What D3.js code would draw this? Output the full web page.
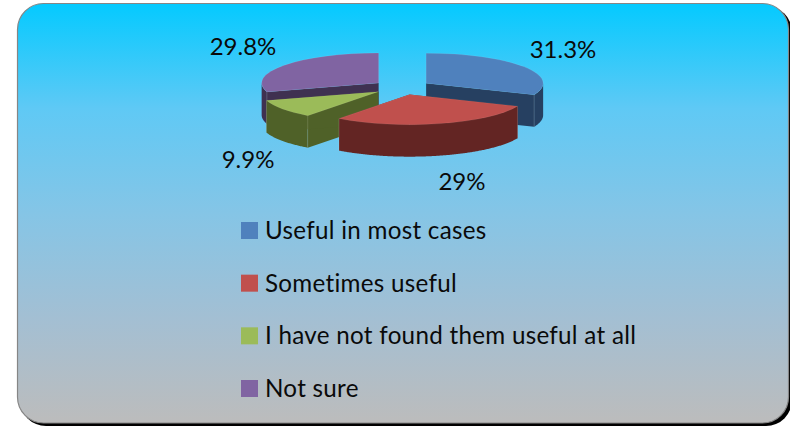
<!DOCTYPE html>
<html>
<head>
<meta charset="utf-8">
<script src="https://cdn.jsdelivr.net/npm/d3@7"></script>
<style>
html, body { margin: 0; padding: 0; background: #fff; overflow: hidden; }
text { font-family: Lato, "Noto Sans", sans-serif; fill: #0a0a0a; font-variant-ligatures: none; }
</style>
</head>
<body>
<script>
var w = 790;
var h = 428;

var categories = ["Useful in most cases", "Sometimes useful", "I have not found them useful at all", "Not sure"];
var values = [31.3, 29, 9.9, 29.8];
var valueLabels = ["31.3%", "29%", "9.9%", "29.8%"];
var topColors = ["#4f81bd", "#c0504d", "#9bbb59", "#8064a2"];
var sideColors = ["#264061", "#632523", "#4f6128", "#3f3151"];

var cx = 402, cy = 87.4;
var rx = 117, tilt = 0.257;
var depth = 32;
var explode = 29;

var svg = d3.select("body").append("svg")
    .attr("width", w)
    .attr("height", h)
    .style("display", "block");

var grad = svg.append("defs").append("linearGradient")
    .attr("id", "bg")
    .attr("x1", 0).attr("y1", 0).attr("x2", 0).attr("y2", 1);
grad.append("stop").attr("offset", "0%").attr("stop-color", "#04caff");
grad.append("stop").attr("offset", "25%").attr("stop-color", "#5fc9f5");
grad.append("stop").attr("offset", "50%").attr("stop-color", "#85c5e6");
grad.append("stop").attr("offset", "75%").attr("stop-color", "#a3bfd3");
grad.append("stop").attr("offset", "100%").attr("stop-color", "#bcbcbc");

// card shadow, then card
svg.append("rect")
    .attr("x", 20).attr("y", 6).attr("width", 772).attr("height", 420)
    .attr("rx", 26).attr("fill", "#000");
svg.append("rect")
    .attr("x", 17.5).attr("y", 3.5).attr("width", 771).attr("height", 419.5)
    .attr("rx", 26)
    .attr("fill", "url(#bg)")
    .attr("stroke", "#868686")
    .attr("stroke-width", 1.2);

var pie = d3.pie().sort(null).value(function (d) { return d; });
var slices = pie(values).map(function (s, i) {
    var mid = (s.startAngle + s.endAngle) / 2;
    return {
        i: i,
        a0: s.startAngle,
        a1: s.endAngle,
        x: cx + explode * Math.sin(mid),
        y: cy - explode * tilt * Math.cos(mid)
    };
});

// back slices first
slices.sort(function (a, b) { return a.y - b.y; });

var arcTop = d3.arc().innerRadius(0).outerRadius(rx);
var wallArea = d3.area()
    .x(function (a) { return rx * Math.sin(a); })
    .y0(function (a) { return -rx * tilt * Math.cos(a); })
    .y1(function (a) { return -rx * tilt * Math.cos(a) + depth; });

var g = svg.selectAll("g.slice")
    .data(slices)
    .enter()
    .append("g")
    .attr("class", "slice")
    .attr("transform", function (d) { return "translate(" + d.x + "," + d.y + ")"; });

// cut faces
g.each(function (d) {
    var sel = d3.select(this);
    [d.a0, d.a1].forEach(function (a) {
        var px = rx * Math.sin(a);
        var py = -rx * tilt * Math.cos(a);
        sel.append("path")
            .attr("d", "M0,0L" + px + "," + py + "L" + px + "," + (py + depth) + "L0," + depth + "Z")
            .attr("fill", sideColors[d.i]);
    });
});

// front part of the rim
g.each(function (d) {
    var from = Math.max(d.a0, Math.PI / 2);
    var to = Math.min(d.a1, Math.PI * 1.5);
    if (to <= from) return;
    var sel = d3.select(this);
    sel.append("path")
        .attr("d", wallArea(d3.range(from, to, 0.01).concat([to])))
        .attr("fill", sideColors[d.i]);
    [d.a0, d.a1].forEach(function (a) {
        if (Math.cos(a) >= 0) return;
        var px = rx * Math.sin(a);
        var py = -rx * tilt * Math.cos(a);
        sel.append("line")
            .attr("x1", px).attr("x2", px)
            .attr("y1", py).attr("y2", py + depth)
            .attr("stroke", "#fff")
            .attr("stroke-opacity", 0.15);
    });
});

// top faces
g.append("path")
    .attr("transform", "scale(1," + tilt + ")")
    .attr("d", function (d) {
        return arcTop({ startAngle: d.a0, endAngle: d.a1 });
    })
    .attr("fill", function (d) { return topColors[d.i]; })
    .attr("stroke", "#fff")
    .attr("stroke-opacity", 0.08)
    .attr("vector-effect", "non-scaling-stroke");

// value labels
var labelX = [563, 462, 248, 243];
var labelY = [50, 182, 160, 47];

svg.selectAll("text.value")
    .data(valueLabels)
    .enter()
    .append("text")
    .attr("class", "value")
    .attr("x", function (d, i) { return labelX[i]; })
    .attr("y", function (d, i) { return labelY[i]; })
    .attr("dy", "0.35em")
    .attr("text-anchor", "middle")
    .attr("font-size", 24)
    .text(function (d) { return d; });

// legend
var legendY = d3.scalePoint()
    .domain(categories)
    .range([230.5, 388.5]);

var legend = svg.selectAll("g.legend")
    .data(categories)
    .enter()
    .append("g")
    .attr("class", "legend")
    .attr("transform", function (d) { return "translate(241," + legendY(d) + ")"; });

legend.append("rect")
    .attr("x", 0).attr("y", -8.5)
    .attr("width", 17).attr("height", 17)
    .attr("fill", function (d, i) { return topColors[i]; });

legend.append("text")
    .attr("x", 24)
    .attr("dy", "0.35em")
    .attr("font-size", 24.2)
    .attr("letter-spacing", 0.28)
    .text(function (d) { return d; });
</script>
</body>
</html>
